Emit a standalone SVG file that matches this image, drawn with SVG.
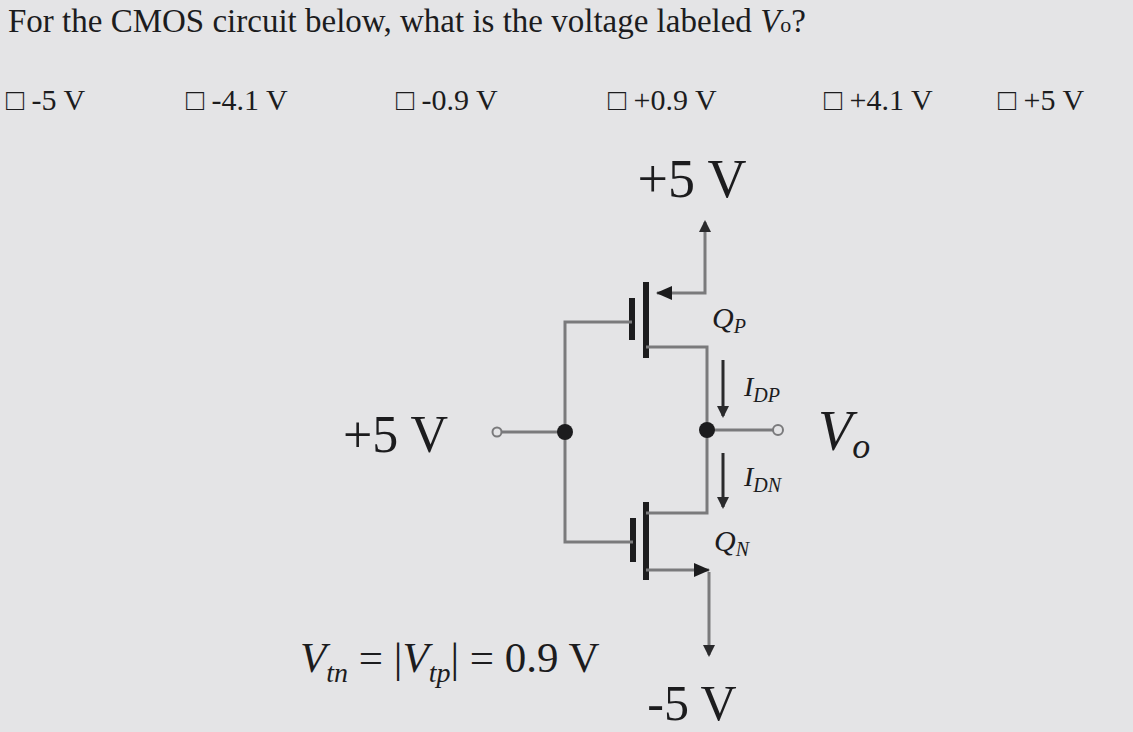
<svg xmlns="http://www.w3.org/2000/svg" width="1133" height="732" viewBox="0 0 1133 732">
<style>
text{font-family:"Liberation Serif",serif;fill:#1c1c1e}
.w{stroke:#7a7a7c;stroke-width:3;fill:none}
.b{stroke:#1c1c1e;stroke-width:6;fill:none}
.a{stroke:#2a2a2c;stroke-width:3;fill:none}
.i{font-style:italic}
</style>
<defs>
<marker id="ah" markerWidth="12" markerHeight="12" refX="10" refY="6" orient="auto-start-reverse" markerUnits="userSpaceOnUse" viewBox="0 0 12 12"><path d="M0,0 L12,6 L0,12 z" fill="#2a2a2c"/></marker>
<marker id="ahs" markerWidth="16" markerHeight="14" refX="15" refY="7" orient="auto" markerUnits="userSpaceOnUse" viewBox="0 0 16 14"><path d="M0,0 L16,7 L0,14 z" fill="#1c1c1e"/></marker>
</defs>
<rect width="1133" height="732" fill="#e4e4e6"/>
<text x="8" y="32" font-size="33">For the CMOS circuit below, what is the voltage labeled <tspan class="i">V</tspan><tspan font-size="22">o</tspan>?</text>
<g font-size="30">
<text x="6" y="110">□ -5 V</text>
<text x="186" y="110">□ -4.1 V</text>
<text x="396" y="110">□ -0.9 V</text>
<text x="608" y="110">□ +0.9 V</text>
<text x="824" y="110">□ +4.1 V</text>
<text x="998" y="110">□ +5 V</text>
</g>
<text x="692" y="197" font-size="54" text-anchor="middle" font-family="Liberation Sans">+5 V</text>
<text x="692" y="720" font-size="50" text-anchor="middle" font-family="Liberation Sans">-5 V</text>
<text x="343" y="452" font-size="52" font-family="Liberation Sans">+5 V</text>
<text x="818" y="450" font-size="56" class="i">V<tspan font-size="36" dy="8">o</tspan></text>
<text x="300" y="672" font-size="43"><tspan class="i">V</tspan><tspan class="i" font-size="28" dy="10">tn</tspan><tspan dy="-10"> = |</tspan><tspan class="i">V</tspan><tspan class="i" font-size="28" dy="10">tp</tspan><tspan dy="-10">| = 0.9 V</tspan></text>
<g id="QP">
<line class="b" x1="646" y1="282" x2="646" y2="358"/>
<line class="b" x1="632" y1="298" x2="632" y2="340"/>
<text x="712" y="328" font-size="30" class="i">Q<tspan font-size="20" dy="5">P</tspan></text>
</g>
<g id="QN">
<line class="b" x1="646" y1="502" x2="646" y2="580"/>
<line class="b" x1="633" y1="518" x2="633" y2="562"/>
<text x="714" y="551" font-size="30" class="i">Q<tspan font-size="20" dy="5">N</tspan></text>
</g>
<g id="connectors">
<polyline class="w" points="705,222 705,293 657,293" marker-start="url(#ah)" marker-end="url(#ahs)"/>
<polyline class="w" points="632,322 565,322 565,542 633,542"/>
<polyline class="w" points="646,347 707,347 707,513 646,513"/>
<line class="w" x1="497" y1="432" x2="565" y2="432"/>
<line class="w" x1="707" y1="430" x2="773" y2="430"/>
<polyline class="w" points="646,570 709,570" marker-end="url(#ahs)"/>
<polyline class="w" points="709,572 709,655" marker-end="url(#ah)"/>
<line class="a" x1="723" y1="360" x2="723" y2="416" marker-end="url(#ah)"/>
<line class="a" x1="723" y1="453" x2="723" y2="507" marker-end="url(#ah)"/>
<circle cx="497" cy="432" r="4.5" fill="#e4e4e6" stroke="#7a7a7c" stroke-width="2"/>
<circle cx="778" cy="430" r="5" fill="#e4e4e6" stroke="#7a7a7c" stroke-width="2"/>
<circle cx="565" cy="432" r="8" fill="#1c1c1e"/>
<circle cx="707" cy="430" r="8" fill="#1c1c1e"/>
</g>
<text x="744" y="396" font-size="28" class="i">I<tspan font-size="20" dy="6">DP</tspan></text>
<text x="744" y="486" font-size="28" class="i">I<tspan font-size="20" dy="6">DN</tspan></text>
</svg>
